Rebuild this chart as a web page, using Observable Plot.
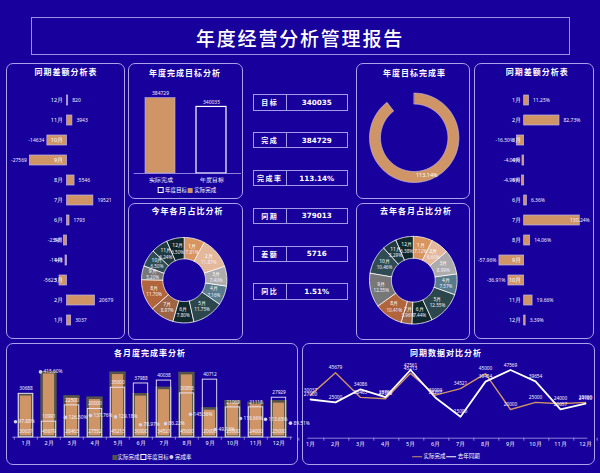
<!DOCTYPE html>
<html lang="zh">
<head>
<meta charset="utf-8">
<script src="https://cdn.jsdelivr.net/npm/d3@7"></script>
<script src="https://cdn.jsdelivr.net/npm/@observablehq/plot@0.6"></script>
<style>
html,body{margin:0;padding:0;background:#17009b;}
#page{position:relative;width:600px;height:473px;overflow:hidden;background:#17009b;font-family:"Noto Sans CJK SC","Noto Sans",sans-serif;color:#fff;}
.box{position:absolute;box-sizing:border-box;border:1.5px solid #aaa2ea;border-radius:7px;}
.tbox{position:absolute;box-sizing:border-box;border:1px solid #9a92e0;}
.t{position:absolute;white-space:nowrap;transform:translate(-50%,-50%);color:#fff;line-height:1;}
.kpi{position:absolute;box-sizing:border-box;border:1px solid #a49ce6;display:flex;}
.kpi .l{width:32px;border-right:1px solid #a49ce6;display:flex;align-items:center;justify-content:center;font-weight:700;font-size:7px;letter-spacing:1.5px;}
.kpi .v{flex:1;display:flex;align-items:center;justify-content:center;font-family:"DejaVu Sans",sans-serif;font-weight:700;font-size:7.2px;}
svg{position:absolute;overflow:visible;}
</style>
</head>
<body>
<div id="page"></div>
<script>
// ---------------- data ----------------
const months = ["1月","2月","3月","4月","5月","6月","7月","8月","9月","10月","11月","12月"];
const actual   = [30037, 45679, 28463, 27552, 45213, 30000, 34521, 45000, 20000, 25000, 24000, 25000];
const target   = [30688, 10991, 22500, 20000, 35000, 37988, 40038, 30958, 40712, 21069, 21118, 27929];
const lastYear = [27000, 25000, 34086, 28700, 47561, 28207, 15000, 39454, 47569, 39654, 20057, 24180];
const rate     = [97.88, 415.60, 126.50, 137.76, 129.18, 78.97, 86.22, 145.36, 49.13, 118.66, 113.65, 89.51];
const diffValues = [3037, 20679, -5623, -1148, -2348, 1793, 19521, 5546, -27569, -14634, 3943, 820];
const diffPct    = [11.25, 82.73, -16.50, -4.00, -4.94, 6.36, 130.24, 14.06, -57.96, -36.91, 19.66, 3.39];
const shareThis  = [7.81, 11.87, 7.40, 7.16, 11.75, 7.80, 8.97, 11.70, 5.20, 6.50, 6.24, 6.50];
const shareLast  = [7.12, 6.60, 8.99, 7.57, 12.55, 7.44, 3.96, 10.41, 12.55, 10.46, 5.29, 6.38];
const goalCats   = ["实际完成", "年度目标"];
const goalValues = [384729, 340035];
const ringValues = [113.14, 13.14];        // completion share, overflow gap
const ringLabel  = "113.14%";
const kpiLabels  = ["目标", "完成", "完成率", "同期", "差额", "同比"];
const kpiValues  = ["340035", "384729", "113.14%", "379013", "5716", "1.51%"];
const sliceColors = ["#d8955f","#e3b89b","#adabab","#587a8b","#2b474b","#10282c",
                     "#9c6442","#b2643a","#777777","#2f4b53","#1f3a41","#0f272b"];

// ---------------- style ----------------
const TAN = "#cf9566", LAV = "#aaa2ea", GRAY = "#55544c";
const page = document.getElementById("page");

function div(cls, css, html) {
  const d = document.createElement("div");
  d.className = cls;
  Object.assign(d.style, css);
  if (html !== undefined) d.innerHTML = html;
  page.appendChild(d);
  return d;
}
function place(svg, x, y) {
  svg.style.left = x + "px";
  svg.style.top = y + "px";
  page.appendChild(svg);
}
const px = v => v + "px";

// ---------------- frame ----------------
div("tbox", {left: px(30.6), top: px(17.2), width: px(539), height: px(37.5)});
div("t", {left: px(300), top: px(37), fontSize: "19px", fontWeight: 500, letterSpacing: "1.8px"}, "年度经营分析管理报告");

const panels = [[6,62.5,119,276],[128,62.5,115,136.5],[128,202.5,115,137],[356,62.5,114,136.5],
                [356,202.5,114,137],[474,62.5,120,276],[6,342.5,292,122],[302,342.5,293,122]];
panels.forEach(([x,y,w,h]) => div("box", {left:px(x), top:px(y), width:px(w), height:px(h)}));

const panelTitles = [["同期差额分析表",66,72],["年度完成目标分析",185,73],["今年各月占比分析",187.5,211],
  ["年度目标完成率",414.5,72.5],["去年各月占比分析",416,211],["同期差额分析表",537.3,72],
  ["各月度完成率分析",150,352.5],["同期数据对比分析",446,352.5]];
panelTitles.forEach(([s,x,y]) => div("t", {left:px(x), top:px(y), fontSize:"8px", fontWeight:700, letterSpacing:"1px"}, s));

// KPI boxes
kpiLabels.forEach((lab, i) => {
  const k = div("kpi", {left:px(252.7), top:px(94.3 + i*37.8), width:px(95), height:px(16.4)});
  k.innerHTML = `<div class="l">${lab}</div><div class="v">${kpiValues[i]}</div>`;
});

const base = {margin: 0, style: {background: "transparent", overflow: "visible"}};

// ---------------- left: 同期差额 ----------------
{
  const data = months.map((m, i) => ({m, v: diffValues[i]}));
  const svg = Plot.plot({...base, width: 120, height: 278,
    x: {domain: [-40000, 30000], range: [7.7, 102], axis: null},
    y: {domain: [...months].reverse(), range: [17.7, 277.7], padding: 0.5, axis: null},
    marks: [
      Plot.barX(data, {x: "v", y: "m", fill: TAN, stroke: "#bdb5f0", strokeWidth: 0.7}),
      Plot.text(data, {x: 0, y: "m", text: "m", textAnchor: "end", dx: -4, fill: "white", fontSize: 5.5}),
      Plot.text(data.filter(d => d.v >= 0), {x: "v", y: "m", text: d => String(d.v), textAnchor: "start", dx: 4, fill: "#f0eeff", fontSize: 5}),
      Plot.text(data.filter(d => d.v < 0), {x: "v", y: "m", text: d => String(d.v), textAnchor: "end", dx: -3, fill: "#f0eeff", fontSize: 5})
    ]});
  place(svg, 5, 62);
}

// ---------------- right: 同期差额 % ----------------
{
  const data = months.map((m, i) => ({m, v: diffPct[i]}));
  const fmt = d => d.v.toFixed(2) + "%";
  const svg = Plot.plot({...base, width: 123, height: 278,
    x: {domain: [-100, 150], range: [7, 113.7], axis: null},
    y: {domain: months, range: [17.7, 277.7], padding: 0.5, axis: null},
    marks: [
      Plot.barX(data, {x: "v", y: "m", fill: TAN, stroke: "#bdb5f0", strokeWidth: 0.7}),
      Plot.text(data, {x: 0, y: "m", text: "m", textAnchor: "end", dx: -3, fill: "white", fontSize: 5.5}),
      Plot.text(data.filter(d => d.v >= 0 && d.v < 100), {x: "v", y: "m", text: fmt, textAnchor: "start", dx: 4, fill: "#f0eeff", fontSize: 5}),
      Plot.text(data.filter(d => d.v >= 100), {x: "v", y: "m", text: fmt, textAnchor: "end", dx: 10, fill: "#f0eeff", fontSize: 5}),
      Plot.text(data.filter(d => d.v < 0), {x: "v", y: "m", text: fmt, textAnchor: "end", dx: -3, fill: "#f0eeff", fontSize: 5})
    ]});
  place(svg, 474, 62);
}

// ---------------- 年度完成目标分析 ----------------
{
  const data = goalCats.map((c, i) => ({c, v: goalValues[i]}));
  const svg = Plot.plot({...base, width: 123, height: 135,
    x: {domain: goalCats, range: [6.7, 111], paddingInner: 0.41, paddingOuter: 0.227, axis: null},
    y: {domain: [0, 400000], range: [111, 32.7], axis: null},
    marks: [
      Plot.barY(data.filter(d => d.c === "实际完成"), {x: "c", y: "v", fill: TAN, stroke: "#bdb5f0", strokeWidth: 0.6}),
      Plot.barY(data.filter(d => d.c === "年度目标"), {x: "c", y: "v", fill: "none", stroke: "#ffffff", strokeWidth: 1.2}),
      Plot.ruleY([0], {stroke: LAV, strokeWidth: 0.8, insetLeft: 6.7, insetRight: 9}),
      Plot.text(data, {x: "c", y: "v", text: d => String(d.v), dy: -5, fill: "#f0eeff", fontSize: 5}),
      Plot.text(data, {x: "c", y: 0, text: "c", dy: 6.7, fill: "white", fontSize: 5.5})
    ]});
  place(svg, 127, 62);
  div("t", {left: px(187), top: px(190), fontSize: "5.5px"},
    `<span style="display:inline-block;width:4px;height:4px;border:0.8px solid #fff;vertical-align:middle"></span> 年度目标 <span style="display:inline-block;width:5px;height:5px;background:${TAN};vertical-align:middle"></span> 实际完成`);
}

// ---------------- donut helpers ----------------
function donutPolys(values, keys, rIn, rOut) {
  const arcs = d3.pie().sort(null).startAngle(0).endAngle(2 * Math.PI)(values);
  const pts = [];
  arcs.forEach((a, i) => {
    const n = Math.max(2, Math.ceil((a.endAngle - a.startAngle) / 0.03));
    for (let k = 0; k <= n; k++) {
      const t = a.startAngle + (a.endAngle - a.startAngle) * k / n;
      pts.push({key: keys[i], x: rOut * Math.sin(t), y: rOut * Math.cos(t)});
    }
    for (let k = n; k >= 0; k--) {
      const t = a.startAngle + (a.endAngle - a.startAngle) * k / n;
      pts.push({key: keys[i], x: rIn * Math.sin(t), y: rIn * Math.cos(t)});
    }
  });
  return pts;
}
function donutCentroids(values, keys, r) {
  const arcs = d3.pie().sort(null).startAngle(0).endAngle(2 * Math.PI)(values);
  return arcs.map((a, i) => {
    const t = (a.startAngle + a.endAngle) / 2;
    return {key: keys[i], value: values[i], x: r * Math.sin(t), y: r * Math.cos(t)};
  });
}

// ---------------- 年度目标完成率 ring ----------------
{
  const keys = ["完成", "超额"];
  const polys = donutPolys(ringValues, keys, 33.7 / 44.7, 1).filter(d => d.key === "完成");
  const lab = donutCentroids(ringValues, keys, (1 + 33.7 / 44.7) / 2).filter(d => d.key === "完成");
  const cx = 57.7, cy = 75.3, R = 44.7;
  const svg = Plot.plot({...base, width: 113, height: 135,
    x: {domain: [-1, 1], range: [cx - R, cx + R], axis: null},
    y: {domain: [-1, 1], range: [cy + R, cy - R], axis: null},
    marks: [
      Plot.line(polys, {x: "x", y: "y", z: "key", fill: TAN, stroke: "#c8c0f4", strokeWidth: 0.6, curve: "linear-closed"}),
      Plot.text(lab, {x: "x", y: "y", text: () => ringLabel, fill: "white", fontSize: 5.5})
    ]});
  place(svg, 356, 62);
}

// ---------------- pies ----------------
function pie(shares, x0, y0, cx, cy, R) {
  const polys = donutPolys(shares, months, 0.5, 1);
  const labs = donutCentroids(shares, months, 0.75);
  const svg = Plot.plot({...base, width: 115, height: 138,
    x: {domain: [-1, 1], range: [cx - R, cx + R], axis: null},
    y: {domain: [-1, 1], range: [cy + R, cy - R], axis: null},
    color: {domain: months, range: sliceColors},
    marks: [
      Plot.line(polys, {x: "x", y: "y", z: "key", fill: "key", stroke: "white", strokeWidth: 0.8, curve: "linear-closed"}),
      Plot.text(labs, {x: "x", y: "y", text: "key", dy: -3.2, fill: "white", fontSize: 5}),
      Plot.text(labs, {x: "x", y: "y", text: d => d.value.toFixed(2) + "%", dy: 3.2, fill: "#f4f0ff", fontSize: 4.6})
    ]});
  place(svg, x0, y0);
}
pie(shareThis, 127, 200, 56.7, 79.7, 42.7);
pie(shareLast, 356, 200, 56.8, 79.7, 43.8);

// ---------------- 各月度完成率分析 ----------------
{
  const data = months.map((m, i) => ({m, a: actual[i], t: target[i], r: rate[i]}));
  const step = 280 / 12;
  const xs = {domain: months, range: [7.3, 287.3], padding: 0, axis: null};
  const svg = Plot.plot({...base, width: 292, height: 126,
    x: xs,
    y: {domain: [0, 50000], range: [94.7, 24], axis: null},
    marks: [
      Plot.barY(data, {x: "m", y: "a", fill: TAN, stroke: GRAY, strokeWidth: 2.6, insetLeft: 4.6, insetRight: 4.6}),
      Plot.barY(data, {x: "m", y: "t", fill: "none", stroke: "#eeeaff", strokeWidth: 0.9, insetLeft: 4.3, insetRight: 4.3}),
      Plot.ruleY([0], {stroke: LAV, strokeWidth: 0.8, insetLeft: 7.3, insetRight: 4.7}),
      Plot.ruleX(months, {x: d => d, y1: 0, y2: 0, insetTop: 3, dx: -step / 2, stroke: LAV, strokeWidth: 0.8}),
      Plot.ruleX(months.slice(-1), {x: d => d, y1: 0, y2: 0, insetTop: 3, dx: step / 2, stroke: LAV, strokeWidth: 0.8}),
      Plot.text(months, {x: d => d, y: 0, dy: 6.3, text: d => d, fill: "white", fontSize: 5.5}),
      Plot.text(data, {x: "m", y: 0, dy: -6, text: d => String(d.a), fill: "#f4f0ff", fontSize: 4.8}),
      Plot.text(data, {x: "m", y: "t", dy: -5, text: d => String(d.t), fill: "#f4f0ff", fontSize: 4.8})
    ]});
  place(svg, 5, 342);
  const svg2 = Plot.plot({...base, width: 292, height: 126,
    x: xs,
    y: {domain: [0, 450], range: [94.7, 24], axis: null},
    marks: [
      Plot.dot(data, {x: "m", y: "r", r: 1.8, fill: "#d6d2ee"}),
      Plot.text(data, {x: "m", y: "r", text: d => d.r.toFixed(2) + "%", textAnchor: "start", dx: 3, fill: "#f4f0ff", fontSize: 4.8})
    ]});
  place(svg2, 5, 342);
  div("t", {left: px(152), top: px(457), fontSize: "5.5px"},
    `<span style="display:inline-block;width:5px;height:5px;background:${GRAY};vertical-align:middle"></span>实际完成 <span style="display:inline-block;width:4px;height:4px;border:0.8px solid #fff;vertical-align:middle"></span>年度目标 <span style="display:inline-block;width:4px;height:4px;border-radius:50%;background:#d6d2ee;vertical-align:middle"></span> 完成率`);
}

// ---------------- 同期数据对比分析 ----------------
{
  const data = months.map((m, i) => ({m, a: actual[i], l: lastYear[i]}));
  const step = 280 / 12;
  const svg = Plot.plot({...base, width: 293, height: 126,
    x: {domain: months, range: [5.3, 285.3], padding: 0, axis: null},
    y: {domain: [0, 50000], range: [95.7, 24], axis: null},
    marks: [
      Plot.ruleY([0], {stroke: LAV, strokeWidth: 0.8, insetLeft: 5.3, insetRight: 7.7}),
      Plot.ruleX(months, {x: d => d, y1: 0, y2: 0, insetTop: 3, dx: -step / 2, stroke: LAV, strokeWidth: 0.8}),
      Plot.ruleX(months.slice(-1), {x: d => d, y1: 0, y2: 0, insetTop: 3, dx: step / 2, stroke: LAV, strokeWidth: 0.8}),
      Plot.text(months, {x: d => d, y: 0, dy: 6.3, text: d => d, fill: "white", fontSize: 5.5}),
      Plot.line(data, {x: "m", y: "a", stroke: TAN, strokeWidth: 1.4}),
      Plot.line(data, {x: "m", y: "l", stroke: "white", strokeWidth: 1.8}),
      Plot.text(data, {x: "m", y: "a", dy: -5, text: d => String(d.a), fill: "#f4f0ff", fontSize: 4.8}),
      Plot.text(data, {x: "m", y: "l", dy: -5, text: d => String(d.l), fill: "#f4f0ff", fontSize: 4.8})
    ]});
  place(svg, 302, 342);
  div("t", {left: px(446), top: px(457), fontSize: "5.5px"},
    `<span style="display:inline-block;width:10px;height:0;border-top:1.4px solid ${TAN};vertical-align:middle"></span> 实际完成 <span style="display:inline-block;width:10px;height:0;border-top:1.6px solid #fff;vertical-align:middle"></span> 去年同期`);
}
</script>
</body>
</html>
